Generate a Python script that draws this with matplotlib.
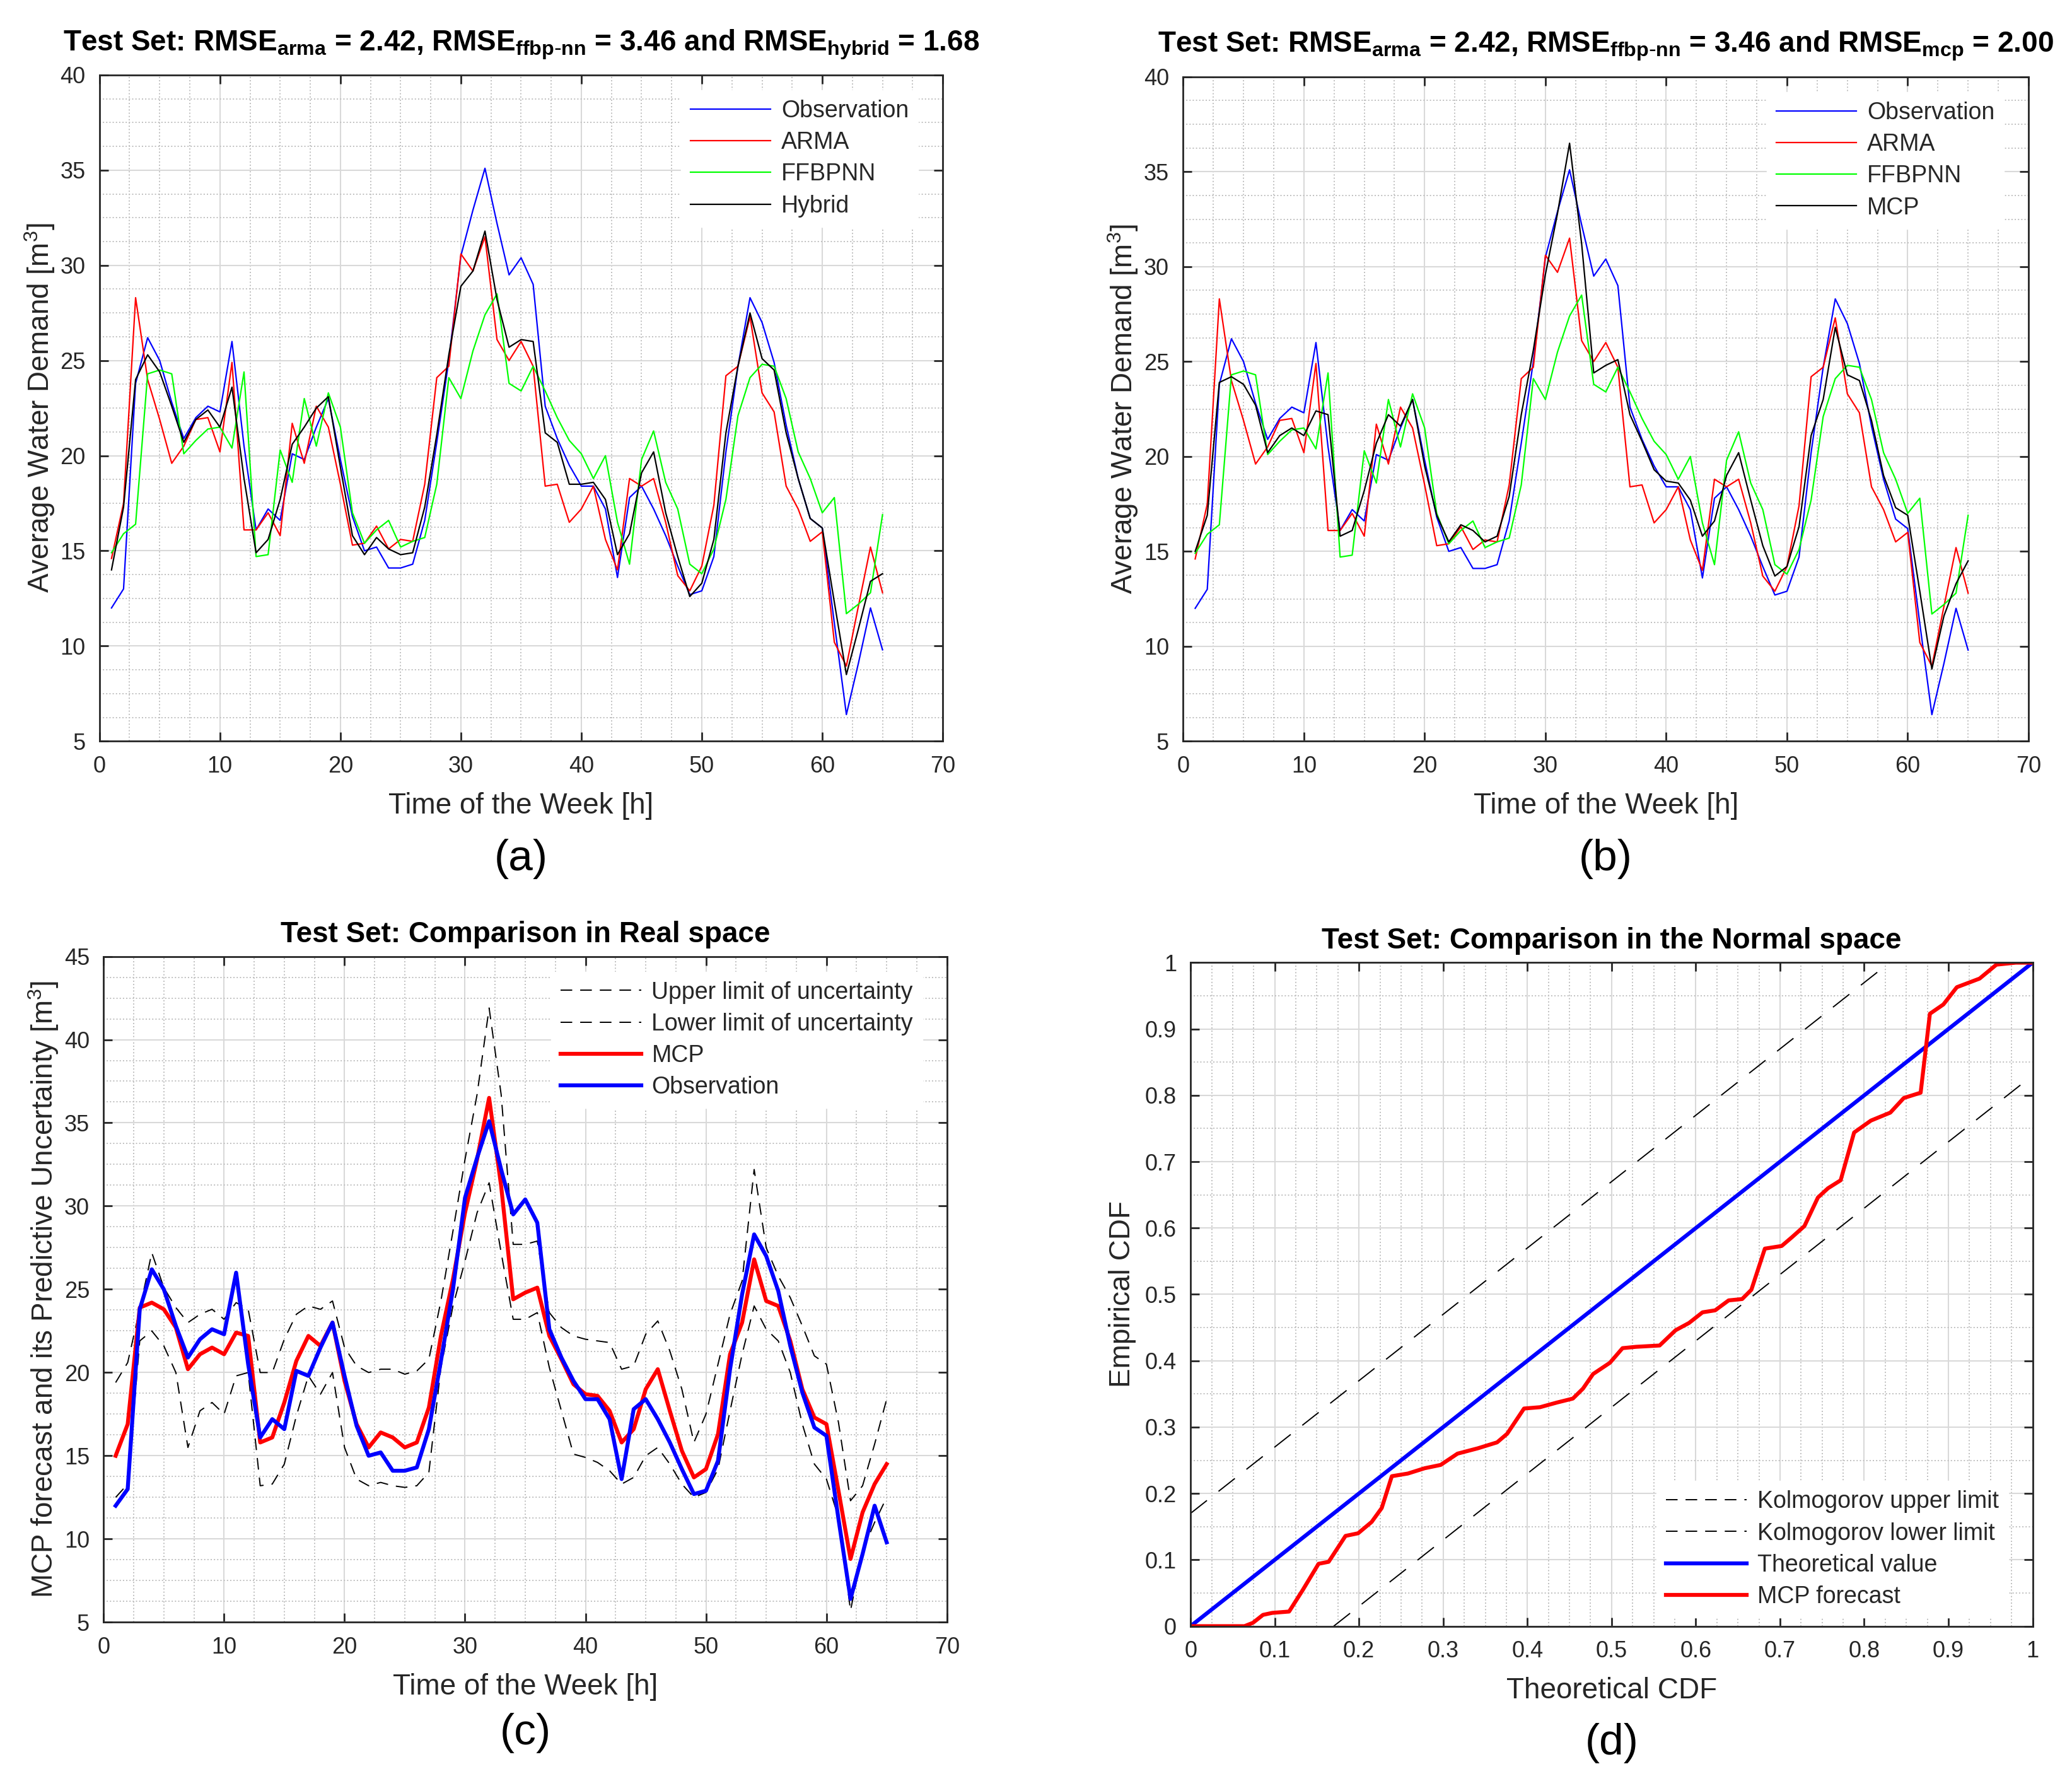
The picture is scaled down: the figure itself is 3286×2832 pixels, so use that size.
import numpy as np
import matplotlib.pyplot as plt
from matplotlib.ticker import MultipleLocator

plt.rcParams['font.family'] = ['Liberation Sans', 'DejaVu Sans']
plt.rcParams['mathtext.default'] = 'regular'

# hourly values of the test week
hours = np.arange(1, 66)
obs = [12.0, 13.0, 23.8, 26.2, 25.0, 22.8, 20.9, 22.0, 22.6, 22.3,
       26.0, 20.5, 16.1, 17.2, 16.6, 20.1, 19.8, 21.5, 23.0, 19.8,
       16.8, 15.0, 15.2, 14.1, 14.1, 14.3, 16.6, 20.7, 25.0, 30.5,
       32.9, 35.1, 32.2, 29.5, 30.4, 29.0, 22.6, 20.9, 19.5, 18.4,
       18.4, 17.2, 13.6, 17.8, 18.4, 17.2, 15.8, 14.2, 12.7, 12.9,
       14.7, 20.2, 24.7, 28.3, 27.0, 24.9, 21.6, 18.8, 16.7, 16.2,
       11.2, 6.4, 9.1, 12.0, 9.8]
arma = [14.6, 17.5, 28.3, 24.0, 21.9, 19.6, 20.5, 21.9, 22.0, 20.2,
        24.9, 16.1, 16.1, 17.0, 15.8, 21.7, 19.6, 22.6, 21.5, 18.5,
        15.3, 15.4, 16.3, 15.1, 15.6, 15.5, 18.5, 24.1, 24.7, 30.6,
        29.7, 31.5, 26.1, 25.0, 26.0, 24.7, 18.4, 18.5, 16.5, 17.2,
        18.4, 15.6, 14.0, 18.8, 18.4, 18.8, 16.5, 13.7, 12.9, 14.2,
        17.4, 24.2, 24.7, 27.3, 23.3, 22.3, 18.4, 17.2, 15.5, 16.0,
        10.2, 8.95, 12.1, 15.2, 12.8]
ffbpnn = [14.9, 15.9, 16.4, 24.3, 24.5, 24.3, 20.1, 20.8, 21.4, 21.5,
          20.4, 24.4, 14.7, 14.8, 20.3, 18.6, 23.0, 20.5, 23.3, 21.5,
          17.0, 15.4, 16.1, 16.6, 15.2, 15.5, 15.7, 18.5, 24.1, 23.0,
          25.5, 27.4, 28.5, 23.8, 23.4, 24.7, 23.4, 22.0, 20.8, 20.1,
          18.8, 20.0, 16.5, 14.3, 19.8, 21.3, 18.6, 17.2, 14.3, 13.8,
          15.1, 17.7, 22.1, 24.1, 24.8, 24.7, 23.0, 20.2, 18.8, 17.0,
          17.8, 11.7, 12.2, 12.8, 16.9]
hybrid = [14.0, 17.3, 24.0, 25.3, 24.4, 22.6, 20.7, 21.9, 22.4, 21.5,
          23.6, 18.8, 14.9, 15.6, 17.7, 20.6, 21.5, 22.5, 23.1, 19.4,
          15.8, 14.8, 15.7, 15.1, 14.8, 14.9, 17.3, 21.1, 25.3, 28.9,
          29.7, 31.8, 28.2, 25.7, 26.1, 26.0, 21.2, 20.7, 18.5, 18.5,
          18.6, 17.7, 14.8, 15.9, 19.1, 20.2, 17.0, 14.7, 12.6, 13.3,
          15.6, 21.2, 24.7, 27.5, 25.1, 24.5, 21.2, 18.8, 16.7, 16.2,
          12.3, 8.5, 10.9, 13.4, 13.8]
mcp = [15.0, 16.9, 23.9, 24.2, 23.8, 22.7, 20.2, 21.1, 21.5, 21.1,
       22.4, 22.2, 15.8, 16.1, 18.2, 20.7, 22.2, 21.6, 23.0, 19.5,
       16.9, 15.5, 16.4, 16.1, 15.5, 15.8, 17.9, 22.2, 25.6, 29.6,
       32.8, 36.5, 31.2, 24.4, 24.8, 25.1, 22.2, 20.8, 19.3, 18.7,
       18.6, 17.7, 15.8, 16.6, 19.0, 20.2, 17.7, 15.3, 13.7, 14.2,
       16.3, 21.1, 23.0, 26.8, 24.3, 24.0, 21.9, 19.0, 17.3, 16.9,
       12.9, 8.8, 11.6, 13.3, 14.5]
upper = [19.4, 20.6, 23.8, 27.2, 25.1, 23.9, 23.0, 23.5, 23.8, 23.2,
         24.2, 23.8, 20.0, 20.0, 22.0, 23.5, 24.0, 23.8, 24.3, 21.5,
         20.4, 20.0, 20.2, 20.2, 19.9, 20.1, 20.8, 24.3, 28.5, 32.8,
         36.7, 41.9, 36.7, 27.7, 27.7, 27.9, 23.6, 22.7, 22.2, 22.0,
         21.9, 21.8, 20.2, 20.4, 22.3, 23.1, 21.3, 19.0, 15.8, 17.5,
         20.5, 23.5, 25.5, 32.2, 27.5, 25.8, 24.5, 22.8, 21.0, 20.5,
         17.0, 12.3, 13.2, 15.7, 18.4]
lower = [12.5, 13.3, 21.9, 22.5, 21.6, 20.0, 15.5, 17.7, 18.2, 17.5,
         19.8, 20.0, 13.2, 13.3, 14.5, 17.4, 19.8, 18.7, 20.0, 15.5,
         13.6, 13.2, 13.4, 13.2, 13.1, 13.2, 14.0, 20.3, 24.0, 26.7,
         29.6, 31.4, 27.2, 23.2, 23.2, 23.6, 20.3, 17.7, 15.1, 14.9,
         14.6, 14.1, 13.3, 13.7, 15.0, 15.5, 14.5, 13.3, 12.5, 12.8,
         14.2, 17.7, 21.1, 24.0, 22.6, 21.9, 20.0, 16.9, 14.5, 13.6,
         11.3, 5.7, 9.3, 11.0, 12.5]

# normal space comparison
theo_cdf = [0.0, 0.064, 0.074, 0.086, 0.097, 0.117, 0.133, 0.152, 0.164, 0.184,
            0.199, 0.215, 0.227, 0.239, 0.258, 0.278, 0.297, 0.317, 0.341, 0.364,
            0.376, 0.396, 0.415, 0.435, 0.454, 0.466, 0.478, 0.498, 0.513, 0.529,
            0.557, 0.576, 0.592, 0.608, 0.623, 0.639, 0.655, 0.666, 0.682, 0.702,
            0.714, 0.729, 0.745, 0.757, 0.772, 0.788, 0.808, 0.831, 0.847, 0.867,
            0.878, 0.894, 0.91, 0.937, 0.957, 0.98, 1.0]
emp_cdf = [0.0, 0.0, 0.005, 0.017, 0.02, 0.022, 0.054, 0.094, 0.097, 0.136,
           0.14, 0.157, 0.178, 0.226, 0.23, 0.238, 0.243, 0.26, 0.268, 0.277,
           0.29, 0.328, 0.33, 0.337, 0.343, 0.358, 0.38, 0.397, 0.419, 0.421,
           0.423, 0.446, 0.457, 0.473, 0.476, 0.491, 0.493, 0.507, 0.569, 0.573,
           0.586, 0.603, 0.646, 0.66, 0.672, 0.744, 0.762, 0.774, 0.796, 0.804,
           0.923, 0.937, 0.963, 0.976, 0.997, 1.0, 1.0]
ks_band = 0.17

txt = '0.15'
fs_tick = 26
fs_lab = 33
fs_title = 33


def style(ax, xmaj, xmin, ymaj, ymin):
    ax.xaxis.set_major_locator(MultipleLocator(xmaj))
    ax.xaxis.set_minor_locator(MultipleLocator(xmin))
    ax.yaxis.set_major_locator(MultipleLocator(ymaj))
    ax.yaxis.set_minor_locator(MultipleLocator(ymin))
    ax.grid(True, which='major', color='0.85', linewidth=1.5)
    ax.grid(True, which='minor', color='0.75', linestyle=':', linewidth=1.4)
    ax.set_axisbelow(True)
    ax.tick_params(which='major', direction='in', top=True, right=True,
                   length=10, width=2, labelsize=fs_tick, labelcolor=txt,
                   color=txt, pad=16)
    ax.tick_params(which='minor', length=0)
    for s in ax.spines.values():
        s.set_color(txt)
        s.set_linewidth(2)


def legend(ax, loc, anchor):
    lg = ax.legend(loc=loc, bbox_to_anchor=anchor, fontsize=fs_tick + 1,
                   handlelength=3.4, handletextpad=0.45, labelspacing=0.38,
                   borderpad=0.4, fancybox=False, framealpha=1)
    lg.get_frame().set_edgecolor('white')
    for t in lg.get_texts():
        t.set_color(txt)
    return lg


fig = plt.figure(figsize=(32.86, 28.32), dpi=100)

titles = [r'Test Set: RMSE$_{arma}$ = 2.42, RMSE$_{ffbp\text{-}nn}$ = 3.46 and RMSE$_{hybrid}$ = 1.68',
          r'Test Set: RMSE$_{arma}$ = 2.42, RMSE$_{ffbp\text{-}nn}$ = 3.46 and RMSE$_{mcp}$ = 2.00']
top_pos = [[0.048, 0.585, 0.407, 0.373], [0.571, 0.585, 0.408, 0.372]]
fourth = [(hybrid, 'Hybrid'), (mcp, 'MCP')]

for i in range(2):
    ax = fig.add_axes(top_pos[i])
    ax.plot(hours, obs, color='b', linewidth=1.6, label='Observation')
    ax.plot(hours, arma, color='r', linewidth=1.6, label='ARMA')
    ax.plot(hours, ffbpnn, color=(0, 1, 0), linewidth=1.6, label='FFBPNN')
    ax.plot(hours, fourth[i][0], color='k', linewidth=1.6, label=fourth[i][1])
    ax.set_xlim(0, 70)
    ax.set_ylim(5, 40)
    style(ax, 10, 2.5, 5, 1.25)
    ax.set_title(titles[i], fontsize=fs_title, fontweight='bold', pad=28)
    ax.set_xlabel('Time of the Week [h]', fontsize=fs_lab, color=txt, labelpad=17)
    ax.set_ylabel('Average Water Demand [m$^3$]', fontsize=fs_lab, color=txt, labelpad=4)
    legend(ax, 'upper right', (0.985, 0.995))
    fig.text(top_pos[i][0] + top_pos[i][2] / 2, 0.519, '(%s)' % 'ab'[i],
             ha='center', va='center', fontsize=50, color='k')

# (c) real space
ax_c = fig.add_axes([0.050, 0.0917, 0.407, 0.3728])
ax_c.plot(hours, upper, color='k', linewidth=1.4, dashes=(9.5, 6.5),
          label='Upper limit of uncertainty')
ax_c.plot(hours, lower, color='k', linewidth=1.4, dashes=(9.5, 6.5),
          label='Lower limit of uncertainty')
ax_c.plot(hours, mcp, color='r', linewidth=4.5, label='MCP')
ax_c.plot(hours, obs, color='b', linewidth=4.5, label='Observation')
ax_c.set_xlim(0, 70)
ax_c.set_ylim(5, 45)
style(ax_c, 10, 2.5, 5, 1.25)
ax_c.set_title('Test Set: Comparison in Real space', fontsize=fs_title,
               fontweight='bold', pad=16)
ax_c.set_xlabel('Time of the Week [h]', fontsize=fs_lab, color=txt, labelpad=17)
ax_c.set_ylabel('MCP forecast and its Predictive Uncertainty [m$^3$]',
                fontsize=fs_lab, color=txt, labelpad=4)
legend(ax_c, 'upper right', (0.985, 0.995))
fig.text(0.050 + 0.407 / 2, 0.0296, '(c)', ha='center', va='center', fontsize=50)

# (d) normal space
ax_d = fig.add_axes([0.5746, 0.0895, 0.4064, 0.3715])
up_x = np.linspace(0.0, 1.0 - ks_band, 30)
lo_x = np.linspace(ks_band, 0.987, 30)
ax_d.plot(up_x, up_x + ks_band, color='k', linewidth=1.4, dashes=(17, 12),
          label='Kolmogorov upper limit')
ax_d.plot(lo_x, lo_x - ks_band, color='k', linewidth=1.4, dashes=(17, 12),
          label='Kolmogorov lower limit')
ax_d.plot([0, 1], [0, 1], color='b', linewidth=4.5, label='Theoretical value')
ax_d.plot(theo_cdf, emp_cdf, color='r', linewidth=4.5, label='MCP forecast')
ax_d.set_xlim(0, 1)
ax_d.set_ylim(0, 1)
style(ax_d, 0.1, 0.025, 0.1, 0.05)
ax_d.xaxis.set_major_formatter(plt.FuncFormatter(lambda v, p: '%g' % round(v, 2)))
ax_d.yaxis.set_major_formatter(plt.FuncFormatter(lambda v, p: '%g' % round(v, 2)))
ax_d.set_title('Test Set: Comparison in the Normal space', fontsize=fs_title,
               fontweight='bold', pad=16)
ax_d.set_xlabel('Theoretical CDF', fontsize=fs_lab, color=txt, labelpad=17)
ax_d.set_ylabel('Empirical CDF', fontsize=fs_lab, color=txt, labelpad=10)
lg = legend(ax_d, 'lower right', (0.985, -0.005))
for h in lg.get_lines()[:2]:
    h.set_dashes((9.5, 6.5))
fig.text(0.5746 + 0.4064 / 2, 0.024, '(d)', ha='center', va='center', fontsize=50)

fig.savefig('out.png', dpi=100, facecolor='white')
